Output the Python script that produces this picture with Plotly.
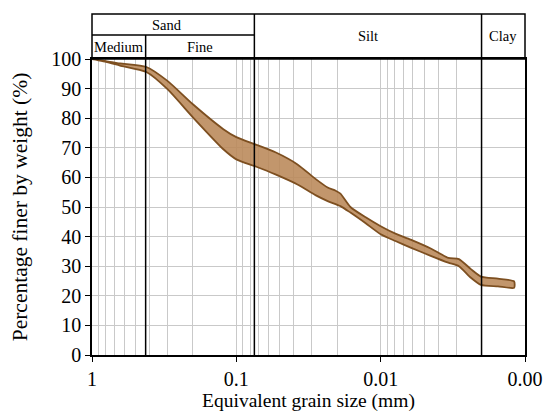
import math
import plotly.graph_objects as go

# Upper and lower bounds of the grading envelope (grain size in mm, % finer)
upper_size = [1.0, 0.8, 0.64, 0.42, 0.3, 0.2, 0.123, 0.1, 0.0726, 0.0536, 0.0377,
              0.0283, 0.0233, 0.0205, 0.019, 0.0162, 0.0127, 0.01, 0.0079, 0.0062,
              0.0045, 0.0034, 0.00287, 0.00237, 0.00202, 0.00154, 0.00119]
upper_pct = [100, 99.3, 98.5, 97.3, 92.6, 84.7, 76.3, 73.6, 71.0, 68.5, 64.4,
             59.5, 56.6, 55.5, 54.5, 50.0, 46.5, 43.5, 41.0, 39.0,
             36.0, 32.8, 32.4, 29.0, 26.5, 25.8, 24.9]
lower_size = [1.0, 0.8, 0.64, 0.42, 0.3, 0.2, 0.123, 0.1, 0.0726, 0.0536, 0.0377,
              0.0283, 0.0233, 0.019, 0.0162, 0.0127, 0.01, 0.0079, 0.0062,
              0.0045, 0.0034, 0.00287, 0.00237, 0.00202, 0.00154, 0.00119]
lower_pct = [100, 99.0, 97.8, 95.6, 89.8, 80.3, 69.5, 66.1, 63.6, 61.0, 57.6,
             54.0, 52.0, 50.3, 48.1, 44.5, 40.8, 38.5, 36.3,
             33.5, 31.2, 30.0, 26.1, 23.7, 23.2, 22.7]

# Soil classification boundaries (mm)
boundaries = [0.425, 0.075, 0.002]
x_tickvals = [1, 0.1, 0.01, 0.001]
x_ticktext = ["1", "0.1", "0.01", "0.00"]
y_tickvals = list(range(0, 101, 10))
minor_grid = [m * 10.0 ** e for e in (-1, -2, -3) for m in range(2, 10)]

SERIF = "Liberation Serif"
W, H = 543, 414
ML, MR, MT, MB = 92, 18, 59, 59

fig = go.Figure()
fig.add_trace(go.Scatter(
    x=upper_size + lower_size[::-1],
    y=upper_pct + lower_pct[::-1],
    fill="toself", fillcolor="rgba(185,135,88,0.88)",
    line=dict(color="#7d4f20", width=1.8, shape="spline", smoothing=0.6),
    mode="lines", hoverinfo="skip", showlegend=False))

for b in boundaries:
    fig.add_trace(go.Scatter(x=[b, b], y=[0, 100], mode="lines",
                             line=dict(color="black", width=1.5),
                             hoverinfo="skip", showlegend=False))

fig.update_xaxes(type="log", range=[0, -3], tickvals=x_tickvals, ticktext=x_ticktext,
                 ticks="outside", ticklen=5, tickcolor="black",
                 showline=True, linecolor="black", linewidth=1.5, mirror=True,
                 showgrid=True, gridcolor="#c9c9c9", gridwidth=1,
                 minor=dict(tickvals=minor_grid, showgrid=True, gridcolor="#c9c9c9",
                            gridwidth=1, ticks=""),
                 tickfont=dict(family=SERIF, size=20, color="black"),
                 title=dict(text="Equivalent grain size (mm)", standoff=3,
                            font=dict(family=SERIF, size=19.5, color="black")),
                 automargin=False, zeroline=False)
fig.update_yaxes(range=[0, 100], tickvals=y_tickvals, ticks="outside", ticklen=5,
                 tickcolor="black", showline=True, linecolor="black", linewidth=1.5,
                 mirror=True, showgrid=True, gridcolor="#c9c9c9", gridwidth=1,
                 tickfont=dict(family=SERIF, size=20, color="black"),
                 title=dict(text="Percentage finer by weight (%)", standoff=18,
                            font=dict(family=SERIF, size=21.5, color="black")),
                 automargin=False, zeroline=False)

plot_h = H - MT - MB
top = 1 + 45 / plot_h
mid = 1 + 24 / plot_h
blk = dict(color="black", width=1.5)
shapes = [
    dict(type="rect", xref="paper", yref="paper", x0=0, x1=1, y0=1, y1=top, line=blk),
    dict(type="line", xref="x", yref="paper", x0=boundaries[1], x1=boundaries[1],
         y0=1, y1=top, line=blk),
    dict(type="line", xref="x", yref="paper", x0=boundaries[2], x1=boundaries[2],
         y0=1, y1=top, line=blk),
    dict(type="line", xref="x", yref="paper", x0=boundaries[0], x1=boundaries[0],
         y0=1, y1=mid, line=blk),
    dict(type="line", xref="x", yref="paper", x0=1, x1=boundaries[1], y0=mid, y1=mid,
         line=blk),
]
fig.update_layout(shapes=shapes)

ann_font = dict(family=SERIF, size=14.5, color="black")
anns = [
    ("Sand", 0.3, (top + mid) / 2),
    ("Medium", math.sqrt(1 * boundaries[0]), (mid + 1) / 2),
    ("Fine", math.sqrt(boundaries[0] * boundaries[1]), (mid + 1) / 2),
    ("Silt", math.sqrt(boundaries[1] * boundaries[2]), (top + 1) / 2),
    ("Clay", math.sqrt(boundaries[2] * 0.001), (top + 1) / 2),
]
fig.update_layout(annotations=[
    dict(text=t, x=math.log10(x), y=y, xref="x", yref="paper", showarrow=False,
         font=ann_font, xanchor="center", yanchor="middle")
    for t, x, y in anns])

fig.update_layout(width=W, height=H, margin=dict(l=ML, r=MR, t=MT, b=MB),
                  paper_bgcolor="white", plot_bgcolor="white")
fig.write_html("out.html")
